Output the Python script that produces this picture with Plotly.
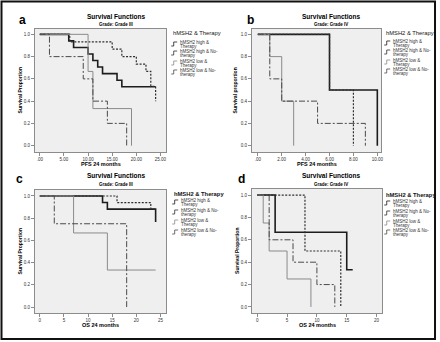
import plotly.graph_objects as go

W, H = 440, 342

# ---------------- data (Kaplan-Meier steps: time, survival) ----------------
series_line1 = ["hMSH2 high &", "hMSH2 high & No-", "hMSH2 low &", "hMSH2 low & No-"]
series_line2 = ["Therapy", "therapy", "Therapy", "therapy"]

# Panel a: PFS, Grade III
a_ht_t = [0, 6, 7, 10, 11, 12, 13, 16, 17, 24]
a_ht_s = [1, 0.941, 0.882, 0.824, 0.765, 0.706, 0.647, 0.588, 0.529, 0.529]
a_hn_t = [0, 6.2, 15, 17, 20, 22, 23, 24]
a_hn_s = [1, 0.933, 0.867, 0.8, 0.733, 0.667, 0.533, 0.4]
a_lt_t = [0, 10, 11, 19]
a_lt_s = [1, 0.667, 0.333, 0]
a_ln_t = [0, 2, 9, 11, 14, 18]
a_ln_s = [1, 0.8, 0.6, 0.4, 0.2, 0]

# Panel b: PFS, Grade IV
b_ht_t = [0, 6, 10]
b_ht_s = [1, 0.5, 0]
b_hn_t = [0, 6, 8]
b_hn_s = [1, 0.5, 0]
b_lt_t = [0, 1, 2, 3]
b_lt_s = [1, 0.8, 0.4, 0]
b_ln_t = [0, 1, 2, 5, 9]
b_ln_s = [1, 0.6, 0.4, 0.2, 0]

# Panel c: OS, Grade III
c_ht_t = [0, 13, 14, 24]
c_ht_s = [1, 0.941, 0.882, 0.765]
c_hn_t = [0, 16, 23, 24]
c_hn_s = [1, 0.941, 0.882, 0.882]
c_lt_t = [0, 7, 14, 24]
c_lt_s = [1, 0.667, 0.333, 0.333]
c_ln_t = [0, 3, 18]
c_ln_s = [1, 0.75, 0]

# Panel d: OS, Grade IV
d_ht_t = [0, 3, 15, 16]
d_ht_s = [1, 0.667, 0.333, 0.333]
d_hn_t = [0, 8, 14]
d_hn_s = [1, 0.5, 0]
d_lt_t = [0, 1, 2, 5, 9]
d_lt_s = [1, 0.75, 0.5, 0.25, 0]
d_ln_t = [0, 2, 6, 10, 13]
d_ln_s = [1, 0.6, 0.4, 0.2, 0]

y_ticks = [0, 0.2, 0.4, 0.6, 0.8, 1.0]
y_ticktext = ["0.0", "0.2", "0.4", "0.6", "0.8", "1.0"]
a_xticks = [0, 5, 10, 15, 20, 25]
a_xtext = [".00", "5.00", "10.00", "15.00", "20.00", "25.00"]
b_xticks = [0, 2, 4, 6, 8, 10]
b_xtext = [".00", "2.00", "4.00", "6.00", "8.00", "10.00"]
c_xticks = [0, 5, 10, 15, 20, 25]
d_xticks = [0, 5, 10, 15, 20]

# ---------------- helpers ----------------
def px(x):
    return x / W

def py(y):
    return 1 - y / H

FONT = "Liberation Sans, Arial, sans-serif"

styles = [
    dict(color="#1c1c1c", width=1.6, dash="solid"),
    dict(color="#2e2e2e", width=1.2, dash="2px,1.5px"),
    dict(color="#8a8a8a", width=1.0, dash="solid"),
    dict(color="#4a4a4a", width=1.0, dash="6px,2px,2px,2px"),
]

panels = [
    dict(key="", data=[(a_ht_t, a_ht_s), (a_hn_t, a_hn_s), (a_lt_t, a_lt_s), (a_ln_t, a_ln_s)],
         box=(35, 29, 167, 152), xr=[-1.03, 26.2], yr=[-0.057, 1.048],
         xt=a_xticks, xtt=a_xtext, letter="a", lx=23, ly=20,
         title="Survival Functions", sub="Grade: Grade III", tx=117,
         xtitle="PFS 24 months", ytitle="Survival Proportion", ytx=21,
         leg_x=172, leg_title_y=33, leg_ys=[44, 53, 63, 72], leg_bold=False),
    dict(key="2", data=[(b_ht_t, b_ht_s), (b_hn_t, b_hn_s), (b_lt_t, b_lt_s), (b_ln_t, b_ln_s)],
         box=(253, 29, 383, 152), xr=[-0.5, 10.33], yr=[-0.057, 1.048],
         xt=b_xticks, xtt=b_xtext, letter="b", lx=252, ly=20,
         title="Survival Functions", sub="Grade: Grade IV", tx=333,
         xtitle="PFS 24 months", ytitle="Survival proportion", ytx=237,
         leg_x=386, leg_title_y=33, leg_ys=[43, 52, 62, 71], leg_bold=False),
    dict(key="3", data=[(c_ht_t, c_ht_s), (c_hn_t, c_hn_s), (c_lt_t, c_lt_s), (c_ln_t, c_ln_s)],
         box=(35, 190, 167, 313), xr=[-1.03, 26.2], yr=[-0.054, 1.054],
         xt=c_xticks, xtt=[str(v) for v in c_xticks], letter="c", lx=20, ly=179,
         title="Survival Functions", sub="Grade: Grade III", tx=117,
         xtitle="OS 24 months", ytitle="Survival Proportion", ytx=20,
         leg_x=173, leg_title_y=194, leg_ys=[202, 212, 222, 232], leg_bold=True),
    dict(key="4", data=[(d_ht_t, d_ht_s), (d_hn_t, d_hn_s), (d_lt_t, d_lt_s), (d_ln_t, d_ln_s)],
         box=(253, 189, 384, 313), xr=[-0.9, 20.95], yr=[-0.054, 1.054],
         xt=d_xticks, xtt=[str(v) for v in d_xticks], letter="d", lx=243, ly=179,
         title="Survival Functions", sub="Grade: Grade IV", tx=333,
         xtitle="OS 24 months", ytitle="Survival Proportion", ytx=238,
         leg_x=386, leg_title_y=195, leg_ys=[203, 213, 223, 232], leg_bold=True),
]

fig = go.Figure()
annotations = []
shapes = []

for p in panels:
    k = p["key"]
    xa = "x" + k
    ya = "y" + k
    for (t, s), st, nm in zip(p["data"], styles, series_line1):
        fig.add_trace(go.Scatter(x=t, y=s, mode="lines", line=dict(shape="hv", **st),
                                 xaxis=xa, yaxis=ya, showlegend=False, name=nm,
                                 hoverinfo="skip"))
    x0, y0, x1, y1 = p["box"]
    axis_common = dict(showgrid=False, zeroline=False, showline=True, mirror=True,
                       linecolor="#8c8c8c", linewidth=1, ticks="outside", ticklen=3,
                       tickcolor="#8c8c8c", tickwidth=1,
                       tickfont=dict(size=4.5, family=FONT, color="#333"))
    fig.update_layout(**{
        "xaxis" + k: dict(domain=[px(x0), px(x1)], range=p["xr"], tickmode="array",
                          tickvals=p["xt"], ticktext=p["xtt"], anchor=ya, **axis_common),
        "yaxis" + k: dict(domain=[py(y1), py(y0)], range=p["yr"], tickmode="array",
                          tickvals=y_ticks, ticktext=y_ticktext, anchor=xa, **axis_common),
    })
    cx = (x0 + x1) / 2
    annotations.append(dict(text="<b>%s</b>" % p["letter"], x=px(p["lx"]), y=py(p["ly"]),
                            font=dict(size=12, family=FONT, color="#000")))
    annotations.append(dict(text="<b>%s</b>" % p["title"], x=px(p["tx"]), y=py(p["ly"] - 4),
                            font=dict(size=6.5, family=FONT, color="#000")))
    annotations.append(dict(text="<b>%s</b>" % p["sub"], x=px(p["tx"]), y=py(p["ly"] + 5),
                            font=dict(size=4.5, family=FONT, color="#000")))
    annotations.append(dict(text="<b>%s</b>" % p["xtitle"], x=px(cx), y=py(y1 + 12),
                            font=dict(size=5.5, family=FONT, color="#000")))
    annotations.append(dict(text="<b>%s</b>" % p["ytitle"], x=px(p["ytx"]), y=py((y0 + y1) / 2),
                            textangle=-90, font=dict(size=5, family=FONT, color="#000")))
    lt = "hMSH2 & Therapy"
    if p["leg_bold"]:
        lt = "<b>%s</b>" % lt
    annotations.append(dict(text=lt, x=px(p["leg_x"]), y=py(p["leg_title_y"]), xanchor="left",
                            font=dict(size=5.8, family=FONT, color="#111")))
    for yy, st, l1, l2 in zip(p["leg_ys"], styles, series_line1, series_line2):
        gx = p["leg_x"]
        annotations.append(dict(text=l1, x=px(gx + 7), y=py(yy - 1.8), xanchor="left",
                                font=dict(size=4.5, family=FONT, color="#333")))
        annotations.append(dict(text=l2, x=px(gx + 7), y=py(yy + 2.4), xanchor="left",
                                font=dict(size=4.5, family=FONT, color="#333")))
        path = "M %f %f L %f %f L %f %f L %f %f" % (
            px(gx), py(yy + 2), px(gx + 2.5), py(yy + 2), px(gx + 2.5), py(yy - 2), px(gx + 6), py(yy - 2))
        shapes.append(dict(type="path", path=path, xref="paper", yref="paper",
                           line=dict(color=st["color"], width=0.8)))

for a in annotations:
    a.setdefault("xref", "paper")
    a.setdefault("yref", "paper")
    a.setdefault("showarrow", False)
    a.setdefault("yanchor", "middle")
    a.setdefault("xanchor", "center")

shapes.append(dict(type="rect", xref="paper", yref="paper", x0=px(1.5), y0=py(339), x1=px(437),
                   y1=py(1.5), line=dict(color="#111", width=2)))

fig.update_layout(width=W, height=H, margin=dict(l=0, r=0, t=0, b=0),
                  paper_bgcolor="white", plot_bgcolor="#efefef",
                  annotations=annotations, shapes=shapes, showlegend=False)

fig.write_html("out.html", config={"displayModeBar": False},
               post_script="document.body.style.margin='0';document.body.style.padding='0';")
